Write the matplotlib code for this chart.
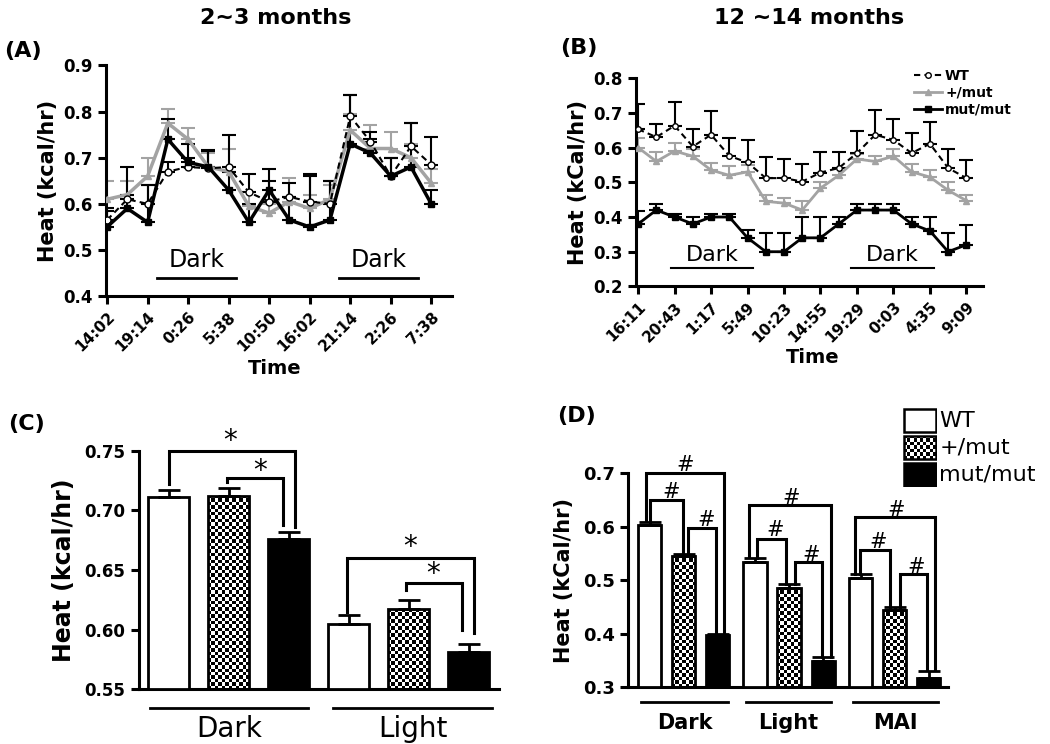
import numpy as np
import matplotlib.pyplot as plt
from matplotlib.patches import Rectangle

plt.rcParams['font.family'] = 'DejaVu Sans'

# ---------------- data ----------------
A_ticks = ['14:02', '19:14', '0:26', '5:38', '10:50', '16:02', '21:14', '2:26', '7:38']
A_wt = [0.565, 0.61, 0.60, 0.67, 0.68, 0.677, 0.68, 0.625, 0.605, 0.615, 0.605, 0.60, 0.79, 0.735, 0.66, 0.725, 0.685]
A_wt_err = [0.02, 0.07, 0.04, 0.02, 0.02, 0.04, 0.07, 0.04, 0.045, 0.03, 0.06, 0.05, 0.045, 0.02, 0.04, 0.05, 0.06]
A_het = [0.61, 0.62, 0.66, 0.775, 0.74, 0.68, 0.67, 0.595, 0.58, 0.605, 0.59, 0.61, 0.76, 0.72, 0.72, 0.70, 0.645]
A_het_err = [0.04, 0.03, 0.04, 0.03, 0.025, 0.03, 0.05, 0.03, 0.02, 0.05, 0.03, 0.03, 0.035, 0.05, 0.035, 0.03, 0.03]
A_mut = [0.55, 0.59, 0.56, 0.74, 0.69, 0.68, 0.63, 0.56, 0.63, 0.565, 0.55, 0.565, 0.73, 0.71, 0.66, 0.68, 0.60]
A_mut_err = [0.04, 0.03, 0.08, 0.045, 0.04, 0.035, 0.04, 0.04, 0.045, 0.05, 0.11, 0.085, 0.105, 0.03, 0.04, 0.095, 0.03]

B_ticks = ['16:11', '20:43', '1:17', '5:49', '10:23', '14:55', '19:29', '0:03', '4:35', '9:09']
B_wt = [0.653, 0.63, 0.663, 0.603, 0.637, 0.576, 0.557, 0.512, 0.512, 0.502, 0.528, 0.541, 0.584, 0.637, 0.622, 0.584, 0.611, 0.541, 0.512]
B_wt_err = [0.072, 0.037, 0.067, 0.05, 0.067, 0.051, 0.065, 0.062, 0.056, 0.051, 0.059, 0.046, 0.064, 0.07, 0.061, 0.057, 0.064, 0.055, 0.051]
B_het = [0.60, 0.56, 0.59, 0.575, 0.535, 0.52, 0.53, 0.445, 0.44, 0.42, 0.483, 0.52, 0.567, 0.56, 0.575, 0.53, 0.515, 0.477, 0.447]
B_het_err = [0.027, 0.026, 0.023, 0.02, 0.02, 0.027, 0.02, 0.019, 0.015, 0.025, 0.017, 0.02, 0.015, 0.017, 0.02, 0.023, 0.021, 0.023, 0.015]
B_mut = [0.38, 0.42, 0.40, 0.38, 0.40, 0.40, 0.34, 0.30, 0.30, 0.34, 0.34, 0.38, 0.42, 0.42, 0.42, 0.38, 0.36, 0.30, 0.32]
B_mut_err = [0.036, 0.017, 0.01, 0.02, 0.01, 0.01, 0.023, 0.055, 0.055, 0.06, 0.06, 0.02, 0.017, 0.017, 0.017, 0.02, 0.04, 0.055, 0.058]

C_groups = ['Dark', 'Light']
C_wt = [0.711, 0.605]
C_wt_err = [0.006, 0.007]
C_het = [0.712, 0.617]
C_het_err = [0.007, 0.008]
C_mut = [0.676, 0.581]
C_mut_err = [0.006, 0.007]

D_groups = ['Dark', 'Light', 'MAI']
D_wt = [0.603, 0.535, 0.504]
D_wt_err = [0.006, 0.007, 0.008]
D_het = [0.545, 0.486, 0.445]
D_het_err = [0.005, 0.007, 0.005]
D_mut = [0.398, 0.349, 0.317]
D_mut_err = [0.002, 0.007, 0.013]

GRAY = '#a3a3a3'
LW = 2.2

fig = plt.figure(figsize=(10.5, 7.44), dpi=100)


def style_axes(ax, labelsize=12):
    for s in ['top', 'right']:
        ax.spines[s].set_visible(False)
    for s in ['left', 'bottom']:
        ax.spines[s].set_linewidth(LW)
    ax.tick_params(width=LW, length=6, labelsize=labelsize)
    for lab in ax.get_xticklabels() + ax.get_yticklabels():
        lab.set_fontweight('bold')


def upper_err(ax, x, y, err, color, zorder=2):
    ax.errorbar(x, y, yerr=[np.zeros(len(err)), err], fmt='none', ecolor=color,
                elinewidth=1.5, capsize=5, capthick=1.5, zorder=zorder)


def time_panel(ax, ticks, wt, wt_err, het, het_err, mut, mut_err, lw_main, ms):
    x = np.arange(len(wt))
    upper_err(ax, x, het, het_err, GRAY, 1)
    upper_err(ax, x, wt, wt_err, 'black', 2)
    upper_err(ax, x, mut, mut_err, 'black', 2)
    ax.plot(x, het, color=GRAY, lw=lw_main, marker='^', ms=ms, zorder=3, label='+/mut')
    ax.plot(x, wt, color='black', lw=1.5, ls=(0, (3, 2)), marker='o', ms=ms,
            mfc='white', mec='black', zorder=4, label='WT')
    ax.plot(x, mut, color='black', lw=lw_main, marker='s', ms=ms, zorder=5, label='mut/mut')
    ax.set_xticks(x[::2])
    ax.set_xticklabels(ticks, rotation=45, ha='right', rotation_mode='anchor')
    return x


# ---------------- (A) ----------------
axA = fig.add_axes([0.101, 0.602, 0.329, 0.310])
time_panel(axA, A_ticks, A_wt, A_wt_err, A_het, A_het_err, A_mut, A_mut_err, 2.5, 5)
axA.set_xlim(-0.05, 17)
axA.set_ylim(0.4, 0.9)
axA.set_yticks([0.4, 0.5, 0.6, 0.7, 0.8, 0.9])
axA.set_ylabel('Heat (kcal/hr)', fontsize=15, fontweight='bold', labelpad=4)
style_axes(axA, 12)
axA.tick_params(axis='x', labelsize=11)
for x0, x1 in [(2.46, 6.35), (11.46, 15.35)]:
    axA.plot([x0, x1], [0.44, 0.44], color='black', lw=2)
    axA.text((x0 + x1) / 2, 0.478, 'Dark', ha='center', va='center', fontsize=17)

# ---------------- (B) ----------------
axB = fig.add_axes([0.606, 0.615, 0.330, 0.280])
time_panel(axB, B_ticks, B_wt, B_wt_err, B_het, B_het_err, B_mut, B_mut_err, 2.0, 4)
axB.set_xlim(-0.1, 18.9)
axB.set_ylim(0.2, 0.8)
axB.set_yticks([0.2, 0.3, 0.4, 0.5, 0.6, 0.7, 0.8])
axB.set_ylabel('Heat (kCal/hr)', fontsize=15, fontweight='bold', labelpad=4)
style_axes(axB, 12)
axB.tick_params(axis='x', labelsize=11)
for x0, x1 in [(1.8, 6.3), (11.7, 16.2)]:
    axB.plot([x0, x1], [0.252, 0.252], color='black', lw=1.5)
    axB.text((x0 + x1) / 2, 0.29, 'Dark', ha='center', va='center', fontsize=16)
h, l = axB.get_legend_handles_labels()
order = [1, 0, 2]
axB.legend([h[i] for i in order], [l[i] for i in order], loc='upper right',
           bbox_to_anchor=(1.10, 1.07), frameon=False, handlelength=2.0,
           labelspacing=0.2, handletextpad=0.2, borderaxespad=0,
           prop={'weight': 'bold', 'size': 10})


# ---------------- bar helpers ----------------
def checker(ax, bar, cell=3.4):
    x0, y0 = bar.get_xy()
    w, hgt = bar.get_width(), bar.get_height()
    ytop = y0 + hgt
    (px0, py0), (px1, py1) = ax.transData.transform([(x0, y0), (x0 + w, ytop)])
    nx = max(1, int(round((px1 - px0) / cell)))
    ny = max(1, int(round((py1 - py0) / cell)))
    board = np.add.outer(np.arange(ny), np.arange(nx)) % 2
    im = ax.imshow(board, cmap='gray', extent=(x0, x0 + w, y0, ytop), aspect='auto',
                   interpolation='nearest', origin='lower', zorder=2)
    im.set_clip_path(bar)


def bar_panel(ax, pos, wt, wt_err, het, het_err, mut, mut_err, width, xlim, ylim):
    pos = np.asarray(pos, dtype=float)
    xw, xh, xm = pos, pos + 1, pos + 2
    base = ylim[0]
    ax.set_xlim(*xlim)
    ax.set_ylim(*ylim)
    ax.bar(xw, np.array(wt) - base, width, bottom=base, color='white', edgecolor='black', lw=2, zorder=3)
    bh = ax.bar(xh, np.array(het) - base, width, bottom=base, facecolor='none', edgecolor='black', lw=2, zorder=3)
    ax.bar(xm, np.array(mut) - base, width, bottom=base, color='black', edgecolor='black', lw=2, zorder=3)
    for b in bh:
        checker(ax, b)
    for xx, v, e in [(xw, wt, wt_err), (xh, het, het_err), (xm, mut, mut_err)]:
        ax.errorbar(xx, v, yerr=[np.zeros(len(e)), e], fmt='none', ecolor='black',
                    elinewidth=2, capsize=8, capthick=2, zorder=4)
    ax.set_xticks([])
    ax.set_xlim(*xlim)
    ax.set_ylim(*ylim)


def bracket(ax, x1, x2, yl, top, yr, sym, sx, sy, fs, lw=2.2):
    ax.plot([x1, x1, x2, x2], [yl, top, top, yr], color='black', lw=lw,
            solid_joinstyle='miter', zorder=5, clip_on=False)
    ax.text(sx, sy, sym, ha='center', va='center', fontsize=fs, zorder=6)


# ---------------- (C) ----------------
axC = fig.add_axes([0.132, 0.0735, 0.343, 0.3205])
bar_panel(axC, [0, 3], C_wt, C_wt_err, C_het, C_het_err, C_mut, C_mut_err,
          0.69, (-0.5, 5.5), (0.55, 0.75))
axC.set_yticks([0.55, 0.60, 0.65, 0.70, 0.75])
axC.set_yticklabels(['%.2f' % v for v in [0.55, 0.60, 0.65, 0.70, 0.75]])
axC.set_ylabel('Heat (kcal/hr)', fontsize=17, fontweight='bold', labelpad=6)
style_axes(axC, 12)
axC.tick_params(axis='x', length=0)
bracket(axC, 0, 2.105, 0.7226, 0.75, 0.686, '*', 1.02, 0.758, 20)
bracket(axC, 0.98, 1.91, 0.7235, 0.727, 0.688, '*', 1.52, 0.733, 20)
bracket(axC, 2.97, 5.08, 0.615, 0.66, 0.597, '*', 4.02, 0.669, 20)
bracket(axC, 3.96, 4.88, 0.633, 0.639, 0.600, '*', 4.41, 0.647, 20)
trC = axC.get_xaxis_transform()
for (x0, x1), name in zip([(-0.31, 2.32), (2.74, 5.39)], C_groups):
    axC.plot([x0, x1], [-0.078, -0.078], color='black', lw=2, transform=trC, clip_on=False)
    axC.text((x0 + x1) / 2, -0.165, name, ha='center', va='center', fontsize=20, transform=trC)

# ---------------- (D) ----------------
axD = fig.add_axes([0.598, 0.0762, 0.305, 0.2876])
bar_panel(axD, [0, 3.1, 6.2], D_wt, D_wt_err, D_het, D_het_err, D_mut, D_mut_err,
          0.69, (-0.64, 8.77), (0.3, 0.7))
axD.set_yticks([0.3, 0.4, 0.5, 0.6, 0.7])
axD.set_ylabel('Heat (kCal/hr)', fontsize=15, fontweight='bold', labelpad=6)
style_axes(axD, 13)
axD.tick_params(axis='x', length=0)
bracket(axD, -0.12, 2.19, 0.61, 0.70, 0.401, '#', 1.03, 0.716, 15)
bracket(axD, 0.0, 0.98, 0.61, 0.65, 0.552, '#', 0.64, 0.666, 15)
bracket(axD, 1.13, 1.96, 0.552, 0.597, 0.401, '#', 1.67, 0.613, 15)
bracket(axD, 2.92, 5.34, 0.544, 0.641, 0.356, '#', 4.17, 0.653, 15)
bracket(axD, 3.16, 4.02, 0.542, 0.578, 0.494, '#', 3.68, 0.594, 15)
bracket(axD, 4.26, 5.05, 0.494, 0.535, 0.356, '#', 4.75, 0.547, 15)
bracket(axD, 6.03, 8.38, 0.512, 0.619, 0.332, '#', 7.25, 0.631, 15)
bracket(axD, 6.18, 7.06, 0.512, 0.557, 0.45, '#', 6.72, 0.572, 15)
bracket(axD, 7.35, 8.14, 0.45, 0.512, 0.332, '#', 7.84, 0.525, 15)
trD = axD.get_xaxis_transform()
for (x0, x1), name in zip([(-0.245, 2.30), (2.82, 5.34), (5.98, 8.48)], D_groups):
    axD.plot([x0, x1], [-0.07, -0.07], color='black', lw=2, transform=trD, clip_on=False)
    axD.text((x0 + x1) / 2, -0.167, name, ha='center', va='center', fontsize=15,
             fontweight='bold', transform=trD)

# legend for (D), drawn by hand so the checker pattern shows
axL = fig.add_axes([0.860, 0.345, 0.032, 0.108])
axL.set_xlim(0, 1)
axL.set_ylim(0, 3)
axL.axis('off')
leg_names = ['WT', '+/mut', 'mut/mut']
for i, name in enumerate(leg_names):
    yb = 2 - i + 0.06
    face = 'black' if i == 2 else ('none' if i == 1 else 'white')
    r = Rectangle((0.03, yb), 0.94, 0.86, facecolor=face, edgecolor='black', lw=1.8, zorder=3)
    axL.add_patch(r)
    if i == 1:
        checker(axL, r, cell=3.2)
    axL.text(1.08, yb + 0.43, name, ha='left', va='center', fontsize=16,
             transform=axL.transData, clip_on=False)

# ---------------- titles & panel letters ----------------
fig.text(0.263, 0.976, '2~3 months', ha='center', va='center', fontsize=16, fontweight='bold')
fig.text(0.771, 0.976, '12 ~14 months', ha='center', va='center', fontsize=16, fontweight='bold')
fig.text(0.262, 0.505, 'Time', ha='center', va='center', fontsize=14, fontweight='bold')
fig.text(0.774, 0.520, 'Time', ha='center', va='center', fontsize=14, fontweight='bold')
fig.text(0.004, 0.931, '(A)', ha='left', va='center', fontsize=16, fontweight='bold')
fig.text(0.533, 0.935, '(B)', ha='left', va='center', fontsize=16, fontweight='bold')
fig.text(0.008, 0.430, '(C)', ha='left', va='center', fontsize=16, fontweight='bold')
fig.text(0.531, 0.441, '(D)', ha='left', va='center', fontsize=16, fontweight='bold')

fig.savefig('out.png', dpi=100)
